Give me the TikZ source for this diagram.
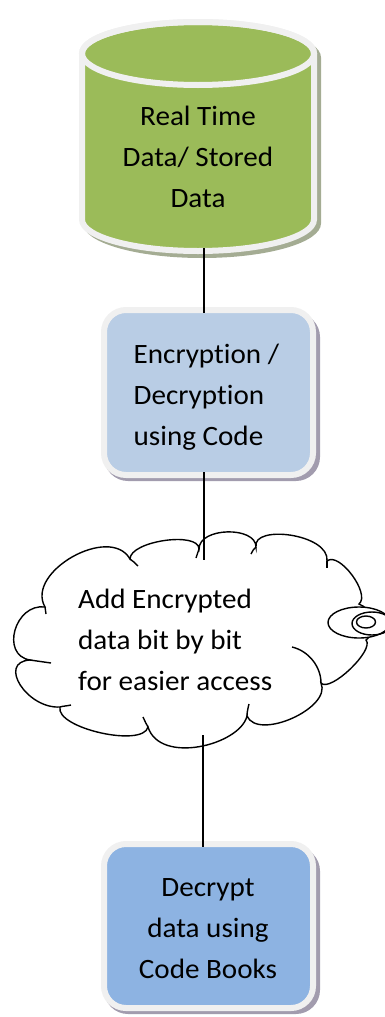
\documentclass[tikz,border=0pt]{standalone}
\usepackage{fontspec}
\setmainfont[FakeStretch=1.04,Ligatures={NoCommon}]{Carlito}
\definecolor{cylgreen}{HTML}{9BBB59}
\definecolor{boxA}{HTML}{B9CDE5}
\definecolor{boxB}{HTML}{8DB3E2}
\definecolor{ringcol}{HTML}{F0F0F0}
\definecolor{cylshadow}{HTML}{A4AC93}
\definecolor{boxshadow}{HTML}{A29CAE}
\begin{document}
\begin{tikzpicture}[x=1pt,y=-1pt,
  ring/.style={draw=ringcol, line width=6pt},
  cloudline/.style={draw=black, line width=1.4pt},
  conn/.style={draw=black, line width=1.4pt},
  txt/.style={font=\fontsize{28}{41}\selectfont, inner sep=0pt, text=black}]
\useasboundingbox (0,0) rectangle (384,1017);

% ---------- cylinder ----------
\begin{scope}[shift={(4,4)}]
\fill[cylshadow] (79,53.5) -- (79,219.5) arc[start angle=180,end angle=0,x radius=119,y radius=34.5] -- (317,53.5) arc[start angle=0,end angle=-180,x radius=119,y radius=34.5] -- cycle;
\end{scope}
\path[ring, fill=cylgreen] (82,53.5) -- (82,219.5) arc[start angle=180,end angle=0,x radius=116,y radius=31.5] -- (314,53.5) arc[start angle=0,end angle=-180,x radius=116,y radius=31.5] -- cycle;
\draw[ring] (198,53.5) ellipse[x radius=116, y radius=31.5];

% ---------- boxes ----------
\fill[boxshadow, rounded corners=24] (104,313) rectangle (320,481);
\path[ring, fill=boxA, rounded corners=22] (104,310) rectangle (313,475);
\fill[boxshadow, rounded corners=24] (104,847) rectangle (320,1014);
\path[ring, fill=boxB, rounded corners=22] (104,844) rectangle (313,1008);

% ---------- cloud ----------
\path[cloudline, fill=white]
  (45,607) .. controls (25,572) and (110,524) .. (130,559)
  .. controls (130,541) and (199,531) .. (199,549)
  .. controls (199,527) and (256,526) .. (256,547)
  .. controls (252,524) and (330,534) .. (327,561)
  .. controls (339,551) and (371,594) .. (359,604)
  .. controls (372,608) and (378,632) .. (366,640)
  .. controls (375,650) and (330,693) .. (321,683)
  .. controls (332,708) and (258,741) .. (247,716)
  .. controls (240,745) and (160,765) .. (148,727)
  .. controls (143,748) and (55,728) .. (60,707)
  .. controls (27,709) and (-3,662) .. (30,660)
  .. controls (0,655) and (15,603) .. (45,607) -- cycle;
% inner tails of the lobes
\draw[cloudline] (45,607) -- (46,614);
\draw[cloudline] (130,559) .. controls (133,561) and (135,563) .. (138,566);
\draw[cloudline] (199,549) .. controls (198,552) and (197,555) .. (196,558);
\draw[cloudline] (256,547) .. controls (254,549) and (252,551) .. (251,554);
\draw[cloudline] (327,561) -- (327,568);
\draw[cloudline] (321,683) .. controls (321,667) and (309,651) .. (292,647);
\draw[cloudline] (247,716) .. controls (247,712) and (248,708) .. (249,704);
\draw[cloudline] (148,727) .. controls (146,724) and (145,721) .. (143,717);
\draw[cloudline] (60,707) .. controls (63,706) and (67,706) .. (71,705);
\draw[cloudline] (30,660) .. controls (37,661) and (44,662) .. (51,663);
% callout bubbles
\draw[cloudline, fill=white] (359,622.5) ellipse[x radius=31, y radius=15.5];
\draw[cloudline] (372,623.5) ellipse[x radius=20, y radius=11.5];
\draw[cloudline] (366,622) ellipse[x radius=9.5, y radius=6];

% ---------- texts (anchor base = baseline of the last line) ----------
\node[txt, align=center, anchor=base] (data) at (198,207) {Real Time\\Data/ Stored\\Data};
\node[txt, align=left, anchor=base west] (enc) at (133.5,445) {Encryption /\\Decryption\\using Code};
\node[txt, align=left, anchor=base west] (cld) at (78,690) {Add Encrypted\\data bit by bit\\for easier access};
\node[txt, align=center, anchor=base] (dec) at (208,978) {Decrypt\\data using\\Code Books};

% ---------- connectors ----------
\coordinate (cylbot) at (204,248);
\coordinate (enctop) at (204,313);
\coordinate (encbot) at (204,472);
\coordinate (cloudtop) at (204,560);
\coordinate (cloudbot) at (203,735);
\coordinate (dectop) at (203,847);
\draw[conn] (cylbot) -- (enctop);
\draw[conn] (encbot) -- (cloudtop);
\draw[conn] (cloudbot) -- (dectop);
\end{tikzpicture}
\end{document}
